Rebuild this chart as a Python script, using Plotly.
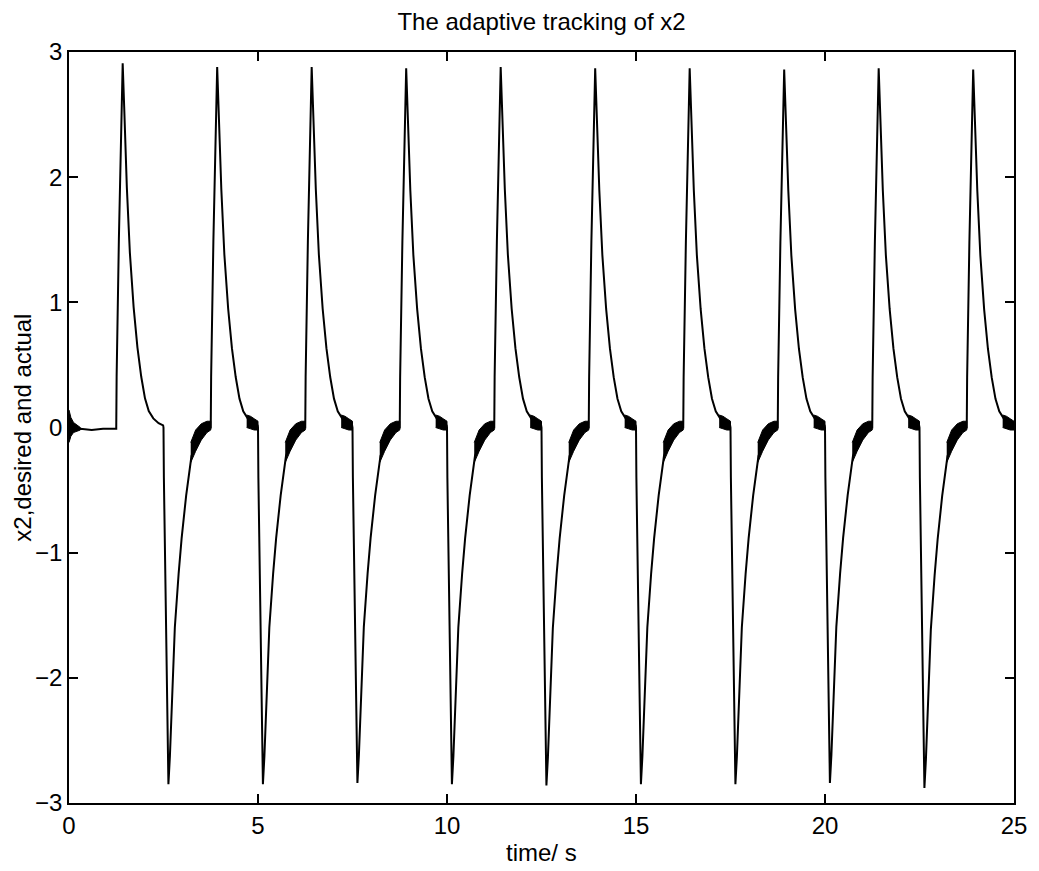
import plotly.graph_objects as go

# ---------------- data ----------------
# times (s) at which the desired x2 jumps up / down
pos_jump_times = [1.25, 3.75, 6.25, 8.75, 11.25, 13.75, 16.25, 18.75, 21.25, 23.75]
neg_jump_times = [2.5, 5.0, 7.5, 10.0, 12.5, 15.0, 17.5, 20.0, 22.5]
# peak / trough values of each pulse
pos_peaks = [2.91, 2.88, 2.88, 2.87, 2.88, 2.87, 2.87, 2.86, 2.87, 2.86]
neg_troughs = [-2.85, -2.85, -2.84, -2.85, -2.86, -2.85, -2.85, -2.84, -2.88]

# pulse shape (time after the jump, fraction of the peak)
pos_shape_dt = [0.0, 0.01, 0.07, 0.17, 0.21, 0.28, 0.36, 0.46, 0.56, 0.66, 0.76, 0.86, 0.98, 1.12, 1.24]
pos_shape_frac = [0.0, 0.14, 0.52, 1.0, 0.88, 0.66, 0.48, 0.33, 0.22, 0.14, 0.08, 0.045, 0.025, 0.012, 0.006]
neg_shape_dt = [0.0, 0.01, 0.06, 0.13, 0.17, 0.24, 0.30, 0.40, 0.48, 0.60, 0.74, 0.90, 1.05, 1.24]
neg_shape_frac = [0.0, 0.14, 0.50, 1.0, 0.92, 0.72, 0.56, 0.41, 0.31, 0.19, 0.08, 0.035, 0.015, 0.0]

# initial stretch before the first jump
start_t = [0.0, 0.02, 0.1, 0.3, 0.6, 0.9, 1.2, 1.25]
start_x2 = [0.02, 0.0, -0.02, -0.01, -0.02, -0.01, -0.01, -0.01]
start_band_t = [0.0, 0.05, 0.12, 0.3]
start_band_hi = [0.14, 0.08, 0.04, 0.0]
start_band_lo = [-0.12, -0.07, -0.04, -0.02]

# chattering band after each negative pulse (time after the down jump)
neg_band_dt = [0.72, 0.85, 1.0, 1.15, 1.25]
neg_band_hi = [-0.12, -0.02, 0.03, 0.05, 0.05]
neg_band_lo = [-0.28, -0.19, -0.10, -0.04, -0.02]
# chattering band near the end of each positive pulse (from the 2nd pulse on)
pos_band_dt = [0.95, 1.05, 1.15, 1.25]
pos_band_hi = [0.10, 0.09, 0.07, 0.05]
pos_band_lo = [0.0, -0.01, -0.02, -0.02]

x_ticks = [0, 5, 10, 15, 20, 25]
y_ticks = [-3, -2, -1, 0, 1, 2, 3]

# ---------------- build the traces ----------------
t_all = list(start_t)
v_all = list(start_x2)
for i, tp in enumerate(pos_jump_times):
    for dt, f in zip(pos_shape_dt, pos_shape_frac):
        t_all.append(tp + dt)
        v_all.append(f * pos_peaks[i])
    if i < len(neg_jump_times):
        tn = neg_jump_times[i]
        for dt, f in zip(neg_shape_dt, neg_shape_frac):
            t_all.append(tn + dt)
            v_all.append(f * neg_troughs[i])

bx, by = [], []
bx += start_band_t + start_band_t[::-1] + [None]
by += start_band_hi + start_band_lo[::-1] + [None]
for tn in neg_jump_times:
    ts = [tn + d for d in neg_band_dt]
    bx += ts + ts[::-1] + [None]
    by += neg_band_hi + neg_band_lo[::-1] + [None]
for tp in pos_jump_times[1:]:
    ts = [min(tp + d, 25.0) for d in pos_band_dt]
    bx += ts + ts[::-1] + [None]
    by += pos_band_hi + pos_band_lo[::-1] + [None]

fig = go.Figure()
fig.add_trace(go.Scatter(x=bx, y=by, mode="lines", fill="toself",
                         fillcolor="black", line=dict(color="black", width=1),
                         hoverinfo="skip", showlegend=False))
fig.add_trace(go.Scatter(x=t_all, y=v_all, mode="lines",
                         line=dict(color="black", width=2), showlegend=False))

font = "Liberation Sans, Arial, Helvetica, sans-serif"
axis_common = dict(showline=True, linecolor="black", linewidth=1.8, mirror="ticks",
                   ticks="inside", ticklen=9, tickwidth=1.5, tickcolor="black",
                   showgrid=False, zeroline=False,
                   tickfont=dict(family=font, size=24, color="black"))
fig.update_xaxes(range=[0, 25], tickvals=x_ticks, **axis_common)
fig.update_yaxes(range=[-3, 3], tickvals=y_ticks, **axis_common)

W, H = 1031, 863  # page has an 8px body margin
fig.update_layout(
    width=W, height=H,
    margin=dict(l=61, r=21, t=44, b=68),
    plot_bgcolor="white", paper_bgcolor="white",
    title=dict(text="The adaptive tracking of x2", x=0.5, xref="paper",
               y=1 - 14 / H, yref="container", yanchor="middle",
               font=dict(family=font, size=24, color="black")),
    annotations=[
        dict(text="time/ s", x=0.5, xref="paper", y=-49 / 751, yref="paper",
             yanchor="middle", showarrow=False,
             font=dict(family=font, size=24, color="black")),
        dict(text="x2,desired and actual", x=-47 / 949, xref="paper", y=0.5, yref="paper",
             xanchor="center", yanchor="middle", textangle=-90, showarrow=False,
             font=dict(family=font, size=24, color="black")),
    ],
)

fig.write_html("out.html")
